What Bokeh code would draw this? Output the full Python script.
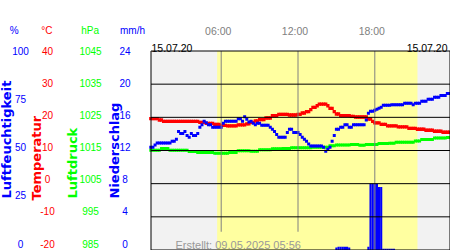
import math
from bokeh.plotting import figure
from bokeh.models import Range1d
from bokeh.embed import file_html
from bokeh.resources import INLINE
from bokeh.core.properties import value

# ---------------- data ----------------
# readings every 10 minutes, starting 00:30 (hours of day)
start_hour = 0.5
step_hour = 1.0 / 6.0

humidity = [
    51.6, 51.6, 52.8, 53.8, 53.8, 53.8, 53.8, 53.8, 53.8, 53.8,
    54.6, 54.6, 55.6, 59.6, 58.6, 58.6, 59.6, 57.6, 56.6, 58.6,
    57.6, 57.6, 58.6, 61.7, 63.0, 64.7, 64.0, 63.0, 63.0, 61.7,
    61.7, 61.7, 61.7, 61.7, 63.7, 64.7, 64.7, 64.7, 64.7, 64.7,
    64.7, 66.0, 66.0, 64.7, 67.0, 65.7, 64.3, 64.7, 63.7, 63.0,
    63.7, 63.7, 62.7, 62.7, 62.7, 62.7, 61.7, 60.7, 59.6, 58.0,
    56.6, 56.6, 56.6, 56.6, 59.0, 60.7, 60.7, 59.0, 59.0, 59.0,
    58.0, 56.6, 55.6, 54.6, 53.3, 52.3, 52.3, 52.3, 52.3, 52.3,
    52.3, 51.6, 49.6, 50.6, 51.6, 54.6, 57.6, 60.7, 60.7, 61.7,
    61.7, 63.0, 63.0, 61.7, 61.7, 63.0, 63.0, 63.0, 63.0, 63.0,
    63.0, 65.3, 68.7, 69.7, 69.7, 70.2, 70.7, 71.2, 71.7, 72.7,
    72.7, 72.7, 72.7, 73.0, 73.0, 73.0, 73.0, 73.0, 73.0, 73.7,
    73.7, 73.7, 73.7, 73.0, 73.7, 73.7, 73.7, 74.7, 74.7, 74.7,
    75.7, 75.7, 75.7, 76.7, 76.7, 76.7, 77.7, 77.7, 77.7, 78.7,
    78.7,
]

temperature = [
    19.6, 19.6, 19.6, 19.6, 19.2, 19.2, 18.8, 18.8, 18.8, 18.8,
    18.8, 18.8, 18.8, 18.8, 18.8, 18.8, 18.8, 18.8, 18.8, 18.8,
    18.8, 18.8, 18.8, 18.5, 18.5, 18.5, 18.2, 18.2, 18.2, 18.2,
    17.9, 17.9, 17.9, 17.6, 17.6, 17.6, 17.4, 17.4, 17.4, 17.4,
    17.4, 17.7, 17.7, 17.7, 17.7, 18.0, 18.0, 18.5, 18.5, 18.9,
    18.9, 19.3, 19.3, 19.3, 19.8, 19.8, 19.8, 20.5, 20.5, 20.5,
    20.9, 20.9, 20.9, 20.9, 20.9, 20.7, 20.7, 20.7, 20.7, 20.9,
    20.9, 21.3, 21.3, 21.7, 21.7, 22.3, 23.0, 23.0, 23.5, 24.0,
    24.0, 24.0, 24.0, 23.5, 22.7, 22.7, 21.7, 21.0, 21.0, 20.5,
    20.5, 20.5, 20.5, 20.5, 20.3, 20.3, 20.1, 20.1, 20.1, 20.1,
    20.1, 20.1, 19.5, 19.5, 18.8, 18.3, 18.3, 18.3, 17.9, 17.9,
    17.9, 17.4, 17.4, 17.4, 17.4, 17.4, 17.1, 17.1, 17.1, 17.1,
    17.1, 16.7, 16.7, 16.7, 16.7, 16.4, 16.4, 16.4, 16.4, 16.1,
    16.1, 16.1, 16.1, 15.8, 15.8, 15.8, 15.8, 15.5, 15.5, 15.5,
    15.5,
]

pressure = [
    1015.1, 1015.1, 1015.1, 1015.1, 1015.1, 1015.6, 1015.6, 1015.6, 1015.6, 1015.1,
    1015.1, 1015.1, 1015.1, 1015.1, 1015.1, 1015.1, 1015.1, 1015.1, 1014.7, 1014.7,
    1014.7, 1014.7, 1014.4, 1014.4, 1014.4, 1014.4, 1014.4, 1014.4, 1014.4, 1014.4,
    1014.15, 1014.15, 1014.15, 1014.15, 1014.15, 1014.15, 1014.15, 1014.4, 1014.4, 1014.4,
    1014.4, 1014.9, 1014.9, 1014.9, 1014.9, 1014.9, 1014.9, 1014.8, 1014.8, 1014.8,
    1014.8, 1015.2, 1015.2, 1015.2, 1015.2, 1015.2, 1015.2, 1015.5, 1015.5, 1015.5,
    1015.5, 1015.5, 1015.6, 1015.6, 1015.6, 1015.6, 1015.8, 1015.8, 1015.8, 1015.8,
    1015.8, 1015.8, 1015.8, 1015.8, 1015.8, 1015.8, 1016.0, 1016.0, 1016.0, 1016.0,
    1016.0, 1016.0, 1016.0, 1016.0, 1016.4, 1016.4, 1016.4, 1016.65, 1016.65, 1016.65,
    1016.65, 1016.65, 1016.65, 1016.65, 1016.8, 1016.8, 1016.8, 1016.8, 1016.55, 1016.55,
    1016.55, 1016.8, 1016.8, 1016.8, 1016.8, 1016.8, 1016.8, 1017.1, 1017.1, 1017.1,
    1017.1, 1017.1, 1017.2, 1017.2, 1017.2, 1017.5, 1017.5, 1017.5, 1017.5, 1017.5,
    1017.5, 1017.5, 1017.5, 1017.5, 1017.85, 1017.85, 1017.85, 1018.3, 1018.3, 1018.3,
    1018.3, 1018.3, 1018.3, 1018.75, 1018.75, 1018.75, 1018.75, 1018.75, 1018.75, 1018.95,
    1018.95,
]

rain_times = ["15:00", "15:10", "15:20", "15:30", "15:40", "15:50", "16:00",
              "17:30", "17:40", "17:50", "18:00", "18:10", "18:20", "18:30",
              "18:40", "18:50", "19:00", "19:10", "19:20", "19:30"]
rain_values = [0.3, 0.4, 0.4, 0.4, 0.4, 0.4, 0.3,
               0.4, 8.0, 8.0, 8.0, 8.0, 7.6, 7.6,
               0.15, 0.15, 0.15, 0.15, 0.15, 0.15]

pct_ticks = [0, 25, 50, 75, 100]
temp_ticks = [-20, -10, 0, 10, 20, 30, 40]
hpa_ticks = [985, 995, 1005, 1015, 1025, 1035, 1045]
rain_ticks = [0, 4, 8, 12, 16, 20, 24]

hour_ticks = [6, 12, 18]
hour_labels = ["06:00", "12:00", "18:00"]
sunrise, sunset = "05:41", "21:20"
date_text = "15.07.20"
created_text = "Erstellt: 09.05.2025 05:56"

units = ["%", "°C", "hPa", "mm/h"]
titles = ["Luftfeuchtigkeit", "Temperatur", "Luftdruck", "Niederschlag"]

# ---------------- layout constants (pixels) ----------------
W, H = 450, 250
CL, CR, CT, CB = 150.5, 449.5, 50.5, 249.5   # chart frame edges
HOUR0_PX, PX_PER_HOUR = 143.9, 12.8          # time scale of the chart
LAB_TOP, LAB_BOT = 50.0, 243.0               # left tick-label span

BLUE, RED, GREEN = "#0000ff", "#ff0000", "#00ff00"
FONT = value("Liberation Sans")


def hhmm(s):
    h, m = s.split(":")
    return int(h) + int(m) / 60.0


def y_range_for(lo, hi, top_px, bot_px):
    per = (hi - lo) / (bot_px - top_px)
    return Range1d(lo - (H - bot_px) * per, hi + top_px * per)


times = [start_hour + i * step_hour for i in range(len(humidity))]
rain_hours = [hhmm(t) for t in rain_times]

x_start = (0 - HOUR0_PX) / PX_PER_HOUR
x_end = (W - HOUR0_PX) / PX_PER_HOUR
h_left = (CL - HOUR0_PX) / PX_PER_HOUR
h_right = (CR - HOUR0_PX) / PX_PER_HOUR

p = figure(width=W, height=H, title=None,
           x_range=Range1d(x_start, x_end),
           y_range=y_range_for(rain_ticks[0], rain_ticks[-1], CT, CB),
           x_axis_location=None, y_axis_location=None, toolbar_location=None,
           output_backend="svg", min_border=0, outline_line_color=None,
           background_fill_color="white", border_fill_color="white")
p.grid.visible = False

p.extra_x_ranges = {"px": Range1d(0, W)}
p.extra_y_ranges = {
    "pxy": Range1d(H, 0),
    "pct": y_range_for(pct_ticks[0], pct_ticks[-1], CT, CB),
    "temp": y_range_for(temp_ticks[0], temp_ticks[-1], CT, CB),
    "hpa": y_range_for(hpa_ticks[0], hpa_ticks[-1], CT, CB),
    "lab_pct": y_range_for(pct_ticks[0], pct_ticks[-1], LAB_TOP, LAB_BOT),
    "lab_temp": y_range_for(temp_ticks[0], temp_ticks[-1], LAB_TOP, LAB_BOT),
    "lab_hpa": y_range_for(hpa_ticks[0], hpa_ticks[-1], LAB_TOP, LAB_BOT),
    "lab_rain": y_range_for(rain_ticks[0], rain_ticks[-1], LAB_TOP, LAB_BOT),
}

ytop, ybot = rain_ticks[-1], rain_ticks[0]

# chart background (night grey) and daylight (yellow)
p.quad(left=[h_left], right=[h_right], bottom=[ybot], top=[ytop],
       fill_color="#f2f2f2", line_color=None)
p.quad(left=[hhmm(sunrise)], right=[hhmm(sunset)], bottom=[ybot], top=[ytop],
       fill_color="#ffffa0", line_color=None)

# rain bars
p.vbar(x=rain_hours, top=rain_values, bottom=0, width=step_hour,
       fill_color=BLUE, line_color=None)

# series
p.scatter(times, pressure, marker="square", size=3, fill_color=GREEN, line_color=None, y_range_name="hpa")
p.scatter(times, temperature, marker="square", size=3.3, fill_color=RED, line_color=None, y_range_name="temp")
p.scatter(times, humidity, marker="square", size=3, fill_color=BLUE, line_color=None, y_range_name="pct")

# vertical hour lines
p.segment(x0=hour_ticks, x1=hour_ticks, y0=[2.2, 2.2, 0.0], y1=[ytop] * 3,
          line_color="#808080", line_width=1)

# horizontal grid lines and frame
inner = rain_ticks[1:-1]
p.segment(x0=[h_left] * len(inner), x1=[h_right] * len(inner), y0=inner, y1=inner,
          line_color="black", line_width=1)
p.quad(left=[h_left], right=[h_right], bottom=[ybot], top=[ytop],
       fill_color=None, line_color="black", line_width=1)

# hour labels above chart
p.text(x=hour_ticks, y=[30] * len(hour_ticks), text=hour_labels, y_range_name="pxy",
       text_align="center", text_baseline="middle", text_font_size="10.5px",
       x_offset=-3, text_color="#808080", text_font=FONT)

# dates and creation note
p.text(x=[CL + 0.5, CR - 2.5], y=[47, 47], text=[date_text, date_text],
       x_range_name="px", y_range_name="pxy", text_align=["left", "right"],
       text_baseline="alphabetic", text_font_size="10.5px", text_color="black",
       text_font=FONT)
p.text(x=[175], y=[244], text=[created_text], x_range_name="px", y_range_name="pxy",
       text_align="left", text_baseline="alphabetic", text_font_size="11px",
       text_color="#999999", text_font=FONT)

# left tick label columns
cols = [(pct_ticks, "lab_pct", 20, BLUE), (temp_ticks, "lab_temp", 47, RED),
        (hpa_ticks, "lab_hpa", 90, GREEN), (rain_ticks, "lab_rain", 124.5, BLUE)]
for ticks, rn, xc, col in cols:
    p.text(x=[xc] * len(ticks), y=ticks, text=[str(t) for t in ticks],
           x_range_name="px", y_range_name=rn, text_align="center",
           text_baseline="middle", text_font_size="10px", text_color=col,
           text_font=FONT)

# unit headers
p.text(x=[13.8, 46.3, 89.7, 132], y=[30] * 4, text=units,
       x_range_name="px", y_range_name="pxy",
       text_color=[BLUE, RED, GREEN, BLUE], text_align="center",
       text_baseline="middle", text_font_size="10px", text_font=FONT)

# vertical axis titles
p.text(x=[5.5, 35.5, 72.2, 113.7], y=[198, 200, 198, 198], text=titles,
       x_range_name="px", y_range_name="pxy",
       text_color=[BLUE, RED, GREEN, BLUE], angle=math.pi / 2,
       text_align="left", text_baseline="middle", text_font_size="13px",
       text_font=value("DejaVu Sans"), text_font_style="bold")

open("out.html", "w").write(file_html(p, INLINE))
